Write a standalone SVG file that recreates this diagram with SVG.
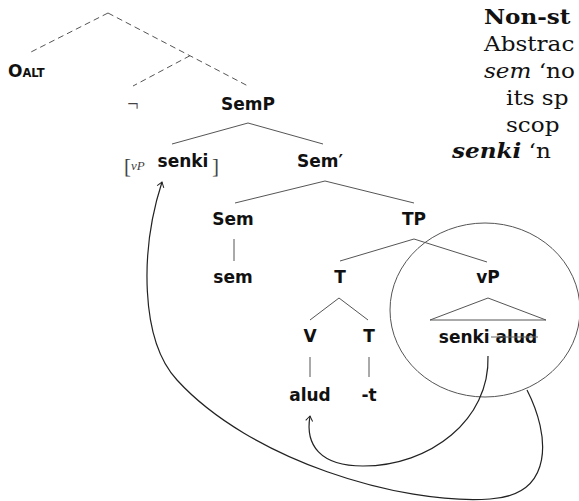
<svg xmlns="http://www.w3.org/2000/svg" width="579" height="501" viewBox="0 0 579 501">
<style>
.lbl{font-family:"DejaVu Sans","Noto Sans",sans-serif;font-weight:bold;font-size:17px;fill:#111;text-anchor:middle}
.ln{stroke:#555;stroke-width:1;fill:none}
.dash{stroke:#555;stroke-width:1;fill:none;stroke-dasharray:6 4}
.mv{stroke:#222;stroke-width:1.2;fill:none}
.ser{font-family:"DejaVu Serif","Liberation Serif",serif;font-size:21px;fill:#111}
.cm{font-family:"Liberation Serif","DejaVu Serif",serif;fill:#444}
</style>
<defs>
<marker id="ah" markerUnits="userSpaceOnUse" markerWidth="12" markerHeight="12" viewBox="-6 -6 12 12" refX="0" refY="0" orient="auto">
<path d="M-5,-3.5 L0,0 L-5,3.5" fill="none" stroke="#222" stroke-width="1"/>
</marker>
</defs>

<g id="connectors">
<line class="dash" x1="108" y1="13" x2="29" y2="53"/>
<line class="dash" x1="108" y1="13" x2="248" y2="86"/>
<line class="dash" x1="190" y1="55.7" x2="133" y2="86"/>
<line class="ln" x1="248" y1="123" x2="172" y2="144"/>
<line class="ln" x1="248" y1="123" x2="323" y2="144"/>
<line class="ln" x1="325" y1="181" x2="235" y2="203"/>
<line class="ln" x1="325" y1="181" x2="414" y2="203"/>
<line class="ln" x1="234" y1="239" x2="234" y2="261"/>
<line class="ln" x1="414" y1="239" x2="340" y2="261"/>
<line class="ln" x1="414" y1="239" x2="487" y2="262"/>
<line class="ln" x1="339" y1="298" x2="310" y2="320"/>
<line class="ln" x1="339" y1="298" x2="368" y2="320"/>
<path class="ln" d="M488,298 L430,320 L546,320 Z"/>
<line class="ln" x1="310" y1="357" x2="310" y2="377"/>
<line class="ln" x1="369" y1="357" x2="369" y2="377"/>
<ellipse class="ln" cx="485" cy="310" rx="95" ry="87"/>
<path class="mv" d="M488,356 C490,420 430,466 363,466 C320,466 305,445 310,416" marker-end="url(#ah)"/>
<path class="mv" d="M527,390 C550,435 555,495 490,499 C400,505 250,460 177,380 C140,340 140,250 162,182" marker-end="url(#ah)"/>
</g>

<g id="n-oalt"><text x="8" y="77" class="lbl" style="text-anchor:start">O<tspan font-size="11.5">ALT</tspan></text></g>
<g id="n-neg"><text x="133" y="111" class="cm" font-size="20" text-anchor="middle">¬</text></g>
<g id="n-semp"><text x="248" y="110" class="lbl">SemP</text></g>
<g id="n-vp-senki">
<text x="124" y="173" class="cm" font-size="21">[</text>
<text x="131" y="170" class="cm" font-size="13" font-style="italic">vP</text>
<text x="183" y="167" class="lbl">senki</text>
<text x="212" y="173" class="cm" font-size="21">]</text>
</g>
<g id="n-sembar"><text x="320" y="167" class="lbl">Sem′</text></g>
<g id="n-sem"><text x="233" y="225" class="lbl">Sem</text></g>
<g id="n-tp"><text x="414" y="225" class="lbl">TP</text></g>
<g id="n-sem-l"><text x="233" y="283" class="lbl">sem</text></g>
<g id="n-t"><text x="340" y="283" class="lbl">T</text></g>
<g id="n-vp"><text x="488" y="283" class="lbl">vP</text></g>
<g id="n-v"><text x="310" y="342" class="lbl">V</text></g>
<g id="n-t2"><text x="369" y="342" class="lbl">T</text></g>
<g id="n-senkialud">
<text x="488" y="343" class="lbl">senki alud</text>
<line x1="491" y1="337" x2="538" y2="337" stroke="#666" stroke-width="1"/>
</g>
<g id="n-alud"><text x="310" y="401" class="lbl">alud</text></g>
<g id="n-t3"><text x="369" y="401" class="lbl">-t</text></g>

<g id="sidetext">
<text transform="translate(484,24) scale(1.1,1)" class="ser" font-weight="bold">Non-st</text>
<text transform="translate(484,51) scale(1.1,1)" class="ser">Abstrac</text>
<text transform="translate(484,78) scale(1.1,1)" class="ser"><tspan font-style="italic">sem</tspan> ‘no</text>
<text transform="translate(506,105) scale(1.1,1)" class="ser">its sp</text>
<text transform="translate(506,132) scale(1.1,1)" class="ser">scop</text>
<text transform="translate(452,158) scale(1.1,1)" class="ser"><tspan font-style="italic" font-weight="bold">senki</tspan> ‘n</text>
</g>
</svg>
